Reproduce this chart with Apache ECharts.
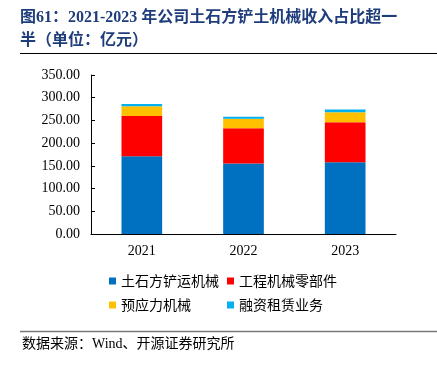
<!DOCTYPE html>
<html><head><meta charset="utf-8">
<script src="https://cdn.jsdelivr.net/npm/echarts@6/dist/echarts.min.js"></script>
<style>html,body{margin:0;padding:0;background:#fff;}#c{width:437px;height:370px;}</style>
</head><body><div id="c"></div>
<script>
var categories = ['2021', '2022', '2023'];
var seriesNames = ['土石方铲运机械', '工程机械零部件', '预应力机械', '融资租赁业务'];
var earthmoving = [171, 155, 158];
var parts = [89, 78, 88];
var prestress = [21, 20.5, 22];
var leasing = [5, 4.5, 6];
var yTicks = [0, 50, 100, 150, 200, 250, 300, 350];
var colors = ['#0070C0', '#FF0000', '#FFC000', '#00B0F0'];
var values = [earthmoving, parts, prestress, leasing];

var chart = echarts.init(document.getElementById('c'));
var legendPos = [[109, 274], [227, 274], [109, 298], [227, 298]];
var legends = seriesNames.map(function (n, i) {
  return {
    data: [n], left: legendPos[i][0], top: legendPos[i][1], icon: 'rect',
    itemWidth: 7, itemHeight: 7, itemGap: 5, padding: 0,
    textStyle: { fontFamily: 'Noto Sans CJK SC', fontSize: 14, color: '#000' }
  };
});
chart.setOption({
  animation: false,
  title: {
    text: '图61：2021-2023 年公司土石方铲土机械收入占比超一\n半（单位：亿元）',
    left: 20, top: 6, padding: 0,
    textStyle: { fontFamily: 'Liberation Serif, Noto Sans CJK SC', fontSize: 16, fontWeight: 'bold', color: '#1F3D7A', lineHeight: 23 }
  },
  legend: legends,
  grid: { left: 91, right: 41, top: 75, bottom: 136, containLabel: false },
  xAxis: {
    type: 'category', data: categories,
    axisLine: { lineStyle: { color: '#000', width: 1 } },
    axisTick: { inside: true, length: 4, lineStyle: { color: '#000' } },
    axisLabel: { fontFamily: 'Liberation Serif', fontSize: 14, color: '#000', margin: 10 }
  },
  yAxis: {
    type: 'value', min: yTicks[0], max: yTicks[yTicks.length - 1], interval: 50,
    axisLine: { show: true, lineStyle: { color: '#000', width: 1 } },
    axisTick: { show: true, inside: true, length: 4, lineStyle: { color: '#000' } },
    splitLine: { show: false },
    axisLabel: { fontFamily: 'Liberation Serif', fontSize: 14, color: '#000', margin: 11,
      formatter: function (v) { return v.toFixed(2); } }
  },
  series: seriesNames.map(function (n, i) {
    return { name: n, type: 'bar', stack: 'total', data: values[i], barWidth: '40%',
      itemStyle: { color: colors[i] } };
  }),
  graphic: [
    { type: 'line', shape: { x1: 20, y1: 53.5, x2: 437, y2: 53.5 }, style: { stroke: '#000', lineWidth: 1 } },
    { type: 'line', shape: { x1: 20, y1: 331.5, x2: 437, y2: 331.5 }, style: { stroke: '#777', lineWidth: 1.5 } },
    { type: 'text', left: 22, top: 337, style: { text: '数据来源：Wind、开源证券研究所', font: '14px "Liberation Serif", "Noto Sans CJK SC"', fill: '#000' } }
  ]
});
</script></body></html>
